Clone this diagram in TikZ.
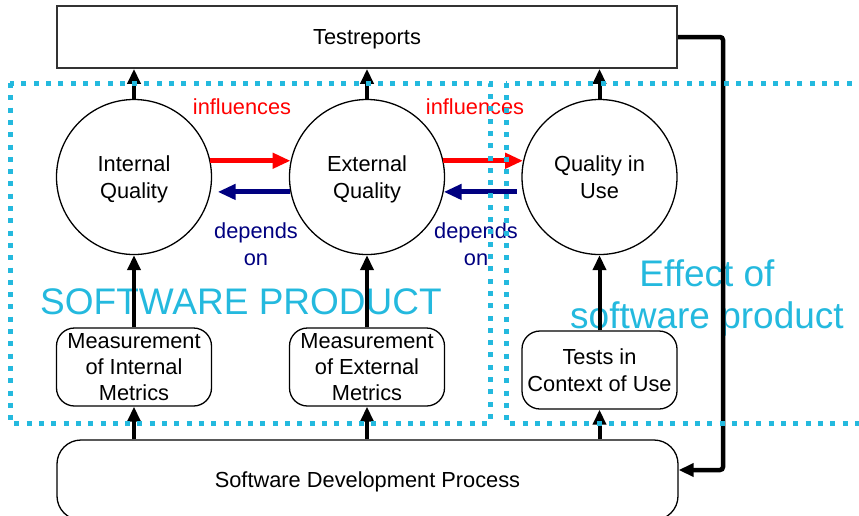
\documentclass[tikz,border=0pt]{standalone}
\usepackage{fontspec}
\setmainfont{Liberation Sans}
\usetikzlibrary{arrows.meta}
\definecolor{infred}{RGB}{255,0,0}
\definecolor{depblue}{RGB}{0,0,128}
\definecolor{prodcyan}{RGB}{36,185,222}

\begin{document}
\begin{tikzpicture}[x=1pt,y=-1pt,
  every node/.style={font=\fontsize{21.8}{26.3}\selectfont,align=center,inner sep=0pt,text depth=0pt},
  main node/.style={circle,draw,line width=1.3pt,minimum size=155pt},
  box node/.style={rectangle,draw,rounded corners=18pt,line width=1.3pt,
    minimum width=155pt,minimum height=78pt},
  big label/.style={text=prodcyan,font=\fontsize{37}{42}\selectfont},
  up/.style={-{Triangle[length=15pt,width=13pt]},line width=4pt},
  infl/.style={-{Triangle[length=18pt,width=15pt]},line width=5pt,draw=infred},
  dep/.style={-{Triangle[length=18pt,width=15pt]},line width=5pt,draw=depblue},
  area/.style={draw=prodcyan,line width=5pt,dash pattern=on 5pt off 7.3pt}]

  \useasboundingbox (0,0) rectangle (859,515);
  \clip (0,0) rectangle (859,515);

  \node[big label] (13) at (241,302) {SOFTWARE PRODUCT};
  \node[big label] (14) at (707,294) {Effect of\\software product};

  \node[draw,line width=1.8pt,draw=black!80,minimum width=620pt,minimum height=62pt] (1) at (367,37) {Testreports};
  \node[main node] (2) at (134,177) {Internal\\Quality};
  \node[main node] (3) at (367,177) {External\\Quality};
  \node[main node] (4) at (599.5,177) {Quality in\\Use};

  \node[box node] (5) at (134,367) {Measurement\\of Internal\\Metrics};
  \node[box node] (6) at (367,367) {Measurement\\of External\\Metrics};
  \node[box node] (7) at (599.5,370) {Tests in\\Context of Use};

  \node[box node,rounded corners=24pt,minimum width=621pt,minimum height=80pt] (8) at (367.5,480) {Software Development Process};

  \node[text=infred] (9) at (242,107) {influences};
  \node[text=infred] (10) at (475,107) {influences};
  \node[text=depblue,font=\fontsize{21.8}{27}\selectfont] (11) at (256,244) {depends\\on};
  \node[text=depblue,font=\fontsize{21.8}{27}\selectfont] (12) at (476,244) {depends\\on};

  \coordinate (15) at (723,470);

  \path[up]
    (2) edge (2 |- 1.south)
    (3) edge (3 |- 1.south)
    (4) edge (4 |- 1.south)
    (5) edge (2)
    (6) edge (3)
    (7) edge (4)
    (5 |- 8.north) edge (5.south)
    (6 |- 8.north) edge (6.south)
    (7 |- 8.north) edge (7.south);

  \path
    (2.12) edge[infl] (3.168)
    (3.12) edge[infl] (4.168)
    (3.191) edge[dep,shorten >=7pt] (2.349)
    (4.191) edge[dep,shorten <=6pt] (3.349);

  \draw[up,line width=4.5pt,rounded corners=3pt] (1.east) -| (15) -- (8.east |- 15);

  % dotted areas
  \draw[area] (10,83) rectangle (490,423);
  \draw[area] (506,83) rectangle (880,423);

\end{tikzpicture}
\end{document}
